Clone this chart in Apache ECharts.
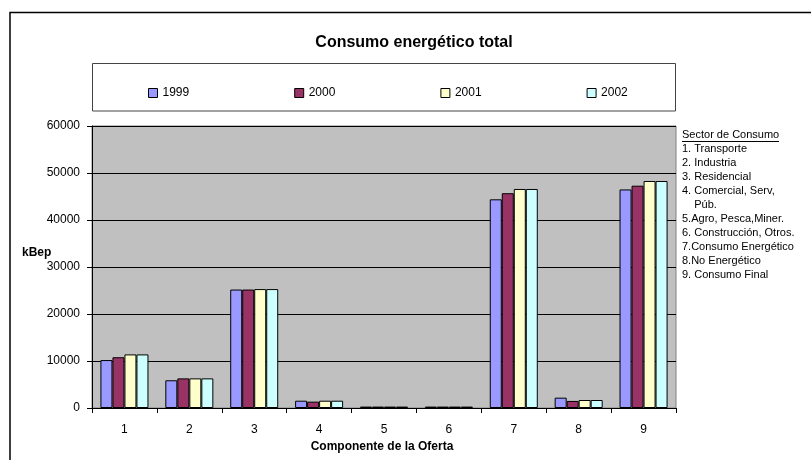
<!DOCTYPE html>
<html>
<head>
<meta charset="utf-8">
<script src="https://cdn.jsdelivr.net/npm/echarts@6/dist/echarts.min.js"></script>
<style>
  html, body { margin: 0; padding: 0; background: #ffffff; }
  #chart { width: 811px; height: 460px; }
</style>
</head>
<body>
<div id="chart"></div>
<script>
// Componentes de la oferta (1..9) y consumo en kBep por año
const categories = ['1', '2', '3', '4', '5', '6', '7', '8', '9'];
const years = ['1999', '2000', '2001', '2002'];
const v1999 = [10200, 5900, 25200, 1550, 300, 300, 44400, 2200, 46500];
const v2000 = [10800, 6300, 25200, 1350, 300, 300, 45700, 1500, 47300];
const v2001 = [11400, 6300, 25300, 1550, 300, 300, 46600, 1700, 48300];
const v2002 = [11400, 6300, 25300, 1550, 300, 300, 46600, 1700, 48300];
const yTicks = [0, 10000, 20000, 30000, 40000, 50000, 60000];
const sectorTitle = 'Sector de Consumo';
const sectorLines = [
  '1. Transporte',
  '2. Industria',
  '3. Residencial',
  '4. Comercial, Serv,',
  '    Púb.',
  '5.Agro, Pesca,Miner.',
  '6. Construcción, Otros.',
  '7.Consumo Energético',
  '8.No Energético',
  '9. Consumo Final'
];

const colors = ['#9999FF', '#993366', '#FFFFCC', '#CCFFFF'];
const seriesValues = [v1999, v2000, v2001, v2002];
const FONT = 'Arial, "Liberation Sans", sans-serif';

const chart = echarts.init(document.getElementById('chart'), null, { renderer: 'canvas' });

const series = years.map((y, i) => ({
  name: y,
  type: 'bar',
  data: seriesValues[i],
  barGap: '0%',
  barCategoryGap: '26%',
  itemStyle: { color: colors[i], borderColor: '#000000', borderWidth: 1 },
  emphasis: { disabled: true }
}));

const graphics = [
  // outer frame
  { type: 'rect', shape: { x: 10, y: 12.5, width: 900, height: 500 },
    style: { fill: 'none', stroke: '#000000', lineWidth: 1.5 }, silent: true, z: 0 },
  // legend frame
  { type: 'rect', shape: { x: 92.5, y: 63.5, width: 583, height: 47.5 },
    style: { fill: 'none', stroke: '#444444', lineWidth: 1 }, silent: true, z: 0 },
  // y axis name
  { type: 'text', x: 22, y: 253,
    style: { text: 'kBep', font: 'bold 12px ' + FONT, fill: '#000', textVerticalAlign: 'middle' } },
  // x axis name
  { type: 'text', x: 382, y: 447,
    style: { text: 'Componente de la Oferta', font: 'bold 12px ' + FONT, fill: '#000',
             textAlign: 'center', textVerticalAlign: 'middle' } },
  // side note heading
  { type: 'text', x: 682, y: 135,
    style: { text: sectorTitle, font: '11px ' + FONT, fill: '#000', textVerticalAlign: 'middle' } },
  { type: 'line', shape: { x1: 682, y1: 141.5, x2: 779, y2: 141.5 },
    style: { stroke: '#000', lineWidth: 1 }, silent: true }
];
sectorLines.forEach((t, i) => {
  graphics.push({ type: 'text', x: 682, y: 148.5 + i * 14.1,
    style: { text: t, font: '11px ' + FONT, fill: '#000', textVerticalAlign: 'middle' } });
});

chart.setOption({
  animation: false,
  backgroundColor: '#ffffff',
  textStyle: { fontFamily: FONT },
  title: {
    text: 'Consumo energético total',
    left: 409, top: 30, textAlign: 'center',
    textStyle: { fontSize: 16, fontWeight: 'bold', color: '#000', fontFamily: FONT }
  },
  legend: {
    data: years,
    left: 143, top: 82,
    itemWidth: 9, itemHeight: 9, itemGap: 105,
    icon: 'rect',
    selectedMode: false,
    textStyle: { fontSize: 12, color: '#000', fontFamily: FONT, padding: [0, 0, 0, 0] },
    itemStyle: { borderColor: '#000', borderWidth: 1 }
  },
  grid: {
    left: 92, right: 135, top: 126, bottom: 52,
    show: true, backgroundColor: '#C0C0C0', borderColor: '#808080', borderWidth: 1
  },
  xAxis: {
    type: 'category',
    data: categories,
    axisLine: { lineStyle: { color: '#000', width: 1 } },
    axisTick: { show: true, length: 5, lineStyle: { color: '#000' } },
    axisLabel: { fontSize: 12, color: '#000', margin: 16, fontFamily: FONT },
    splitLine: { show: false }
  },
  yAxis: {
    type: 'value',
    min: yTicks[0], max: yTicks[yTicks.length - 1], interval: yTicks[1] - yTicks[0],
    axisLine: { show: true, lineStyle: { color: '#000', width: 1 } },
    axisTick: { show: true, length: 5, lineStyle: { color: '#000' } },
    axisLabel: { fontSize: 12, color: '#000', margin: 12, fontFamily: FONT,
                 formatter: (v) => String(v) },
    splitLine: { show: true, lineStyle: { color: '#000', width: 1 } }
  },
  series: series,
  graphic: graphics
});
</script>
</body>
</html>
